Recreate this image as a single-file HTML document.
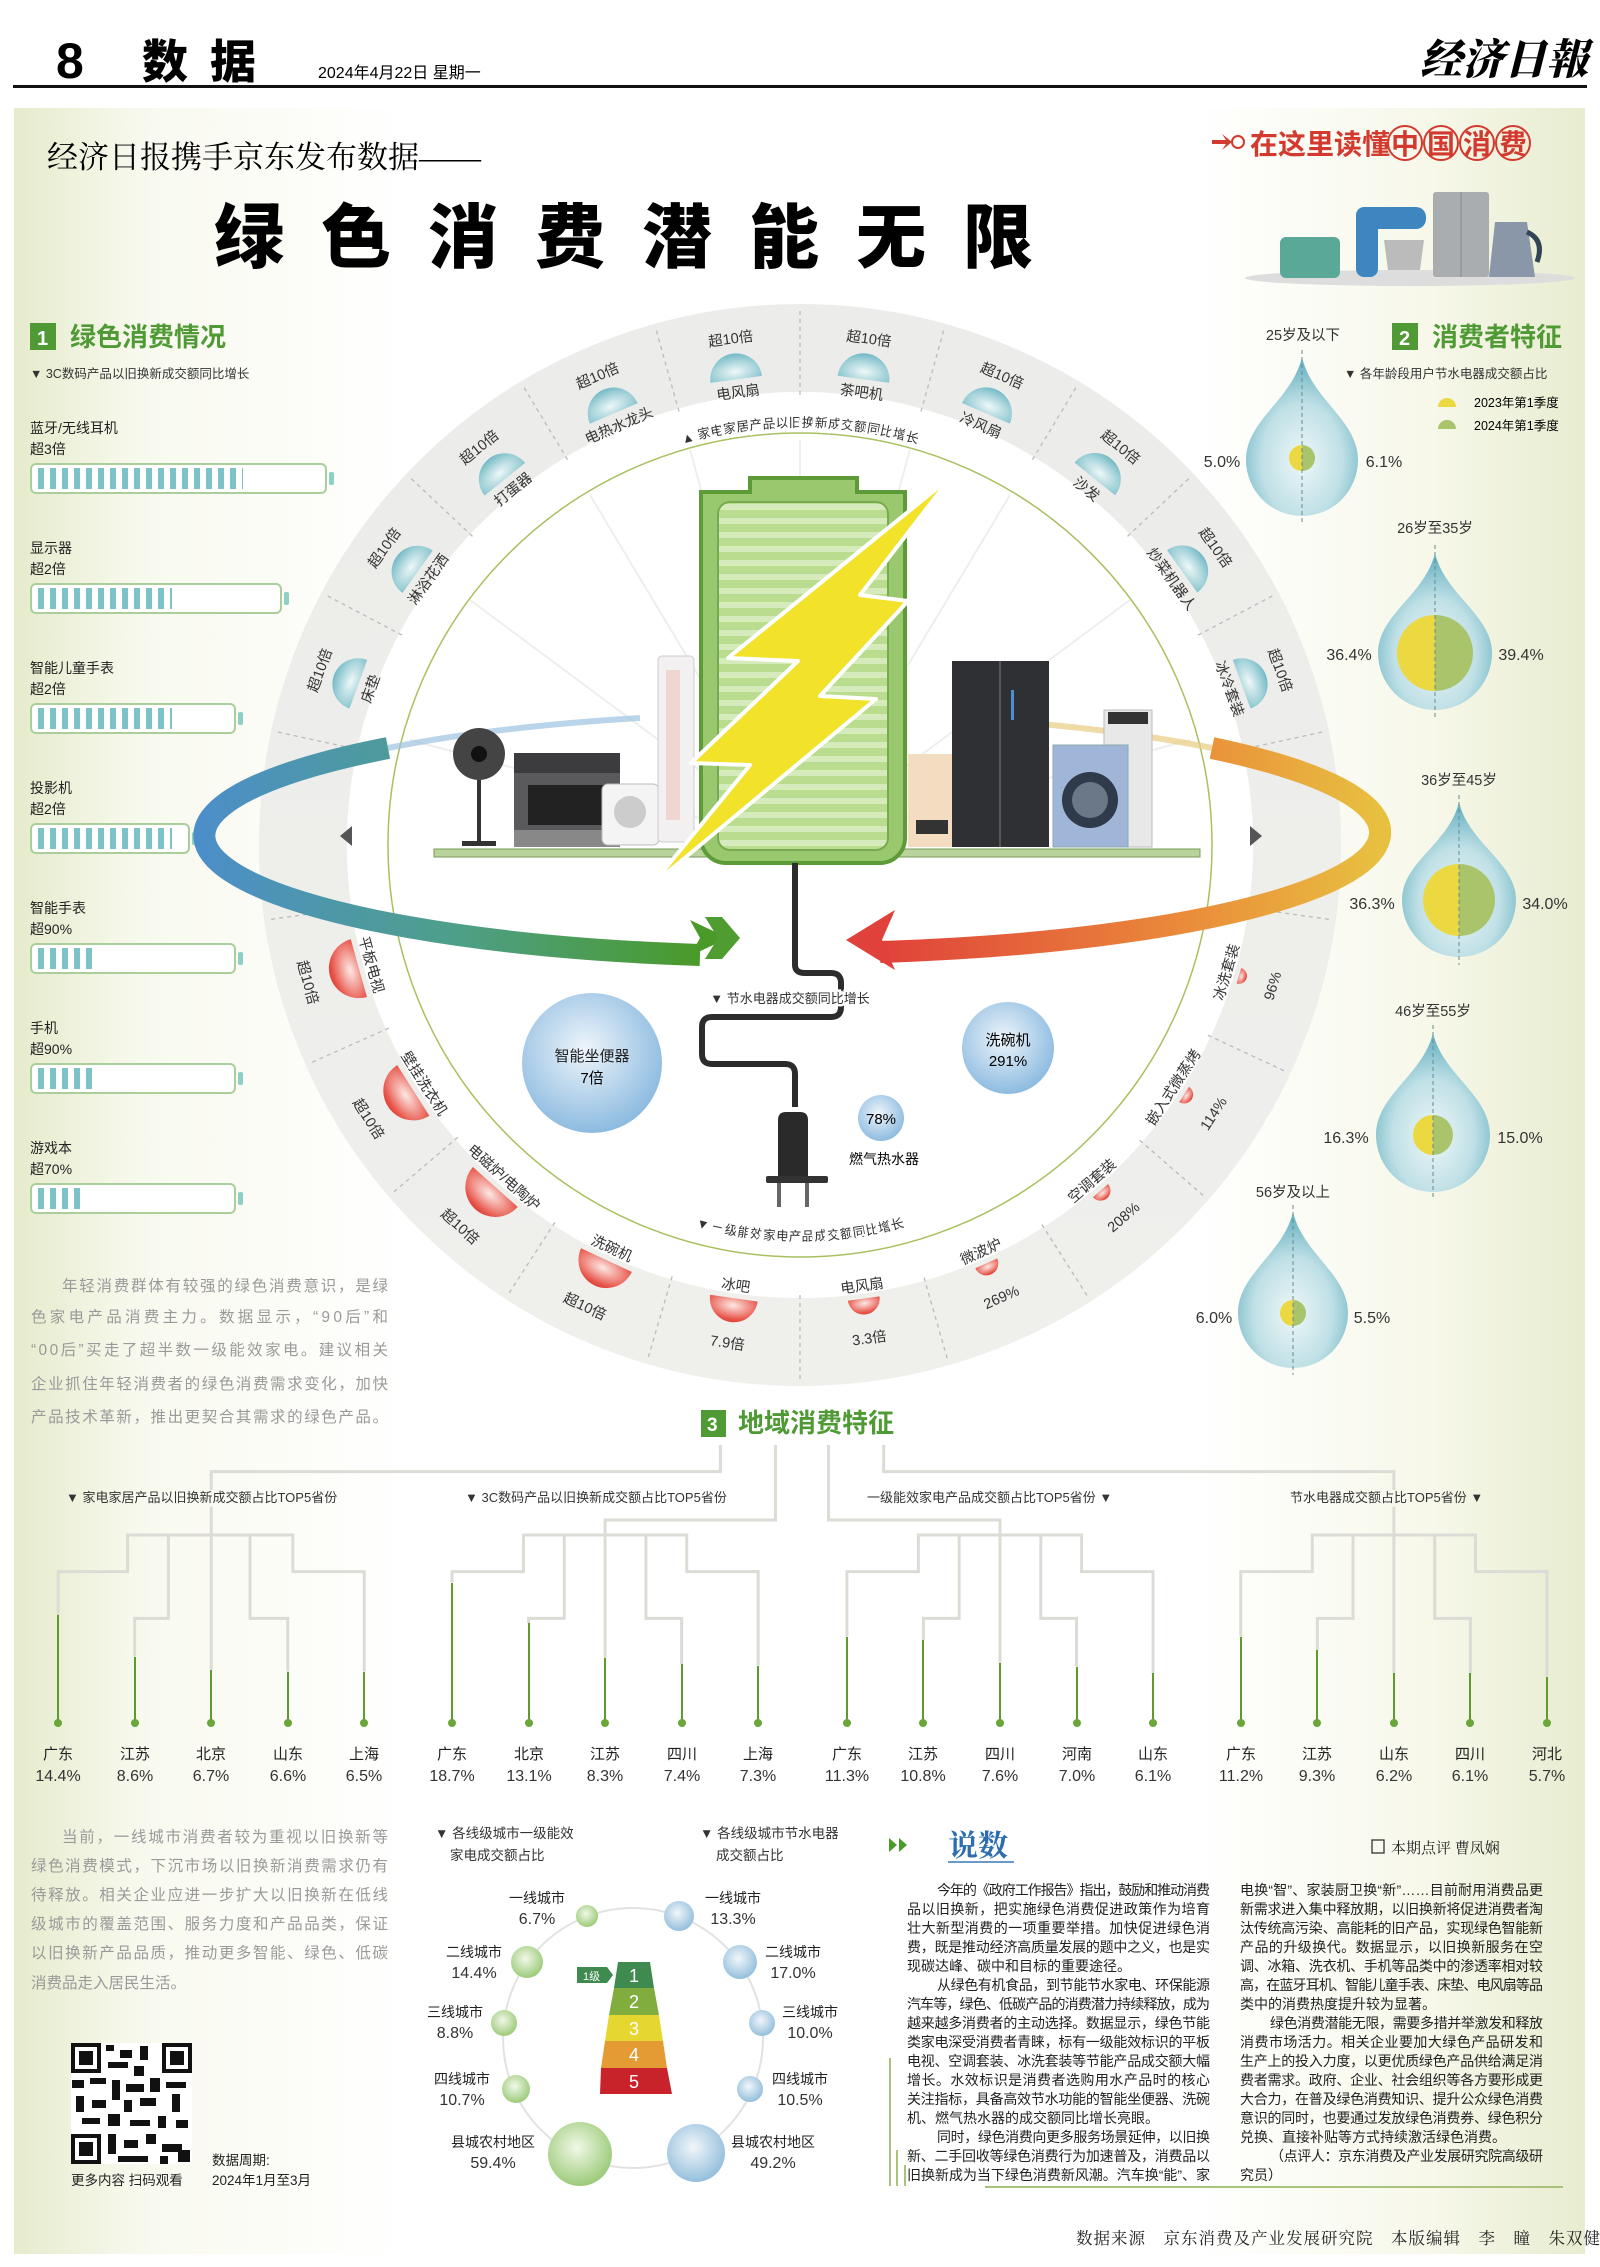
<!DOCTYPE html>
<html><head><meta charset="utf-8">
<style>
html,body{margin:0;padding:0;background:#fff;}
svg{display:block;}
text{font-family:"Liberation Sans","Noto Sans CJK SC",sans-serif;}
.serif{font-family:"Liberation Serif","Noto Serif CJK SC",serif;}
</style></head>
<body>
<svg width="1600" height="2267" viewBox="0 0 1600 2267" xmlns="http://www.w3.org/2000/svg">
<defs>
<linearGradient id="bgH" x1="0" x2="1" y1="0" y2="0">
<stop offset="0" stop-color="#e6ebcc"/><stop offset="0.08" stop-color="#f8f9ee"/><stop offset="0.25" stop-color="#fff"/><stop offset="0.75" stop-color="#fff"/><stop offset="0.9" stop-color="#f7f8ea"/><stop offset="1" stop-color="#e8ecd0"/>
</linearGradient>
<radialGradient id="teal" cx="0.5" cy="0.7" r="0.7"><stop offset="0" stop-color="#eef8f8"/><stop offset="1" stop-color="#72b9c5"/></radialGradient>
<radialGradient id="red" cx="0.5" cy="0.3" r="0.8"><stop offset="0" stop-color="#fde8e4"/><stop offset="0.7" stop-color="#e8574c"/><stop offset="1" stop-color="#d8342c"/></radialGradient>
<radialGradient id="drop" cx="0.5" cy="0.65" r="0.6"><stop offset="0" stop-color="#eef7f8"/><stop offset="0.6" stop-color="#bfe0e6"/><stop offset="1" stop-color="#6fb5c4"/></radialGradient>
<radialGradient id="bub" cx="0.45" cy="0.4" r="0.6"><stop offset="0" stop-color="#eef5fb"/><stop offset="1" stop-color="#8dbbe0"/></radialGradient>
<radialGradient id="gb" cx="0.45" cy="0.4" r="0.6"><stop offset="0" stop-color="#f1f8e8"/><stop offset="1" stop-color="#9ccb79"/></radialGradient>
<radialGradient id="bb" cx="0.45" cy="0.4" r="0.6"><stop offset="0" stop-color="#f1f6fa"/><stop offset="1" stop-color="#94bfdc"/></radialGradient>
<linearGradient id="swL" x1="0" x2="1"><stop offset="0" stop-color="#4c8fc8"/><stop offset="0.5" stop-color="#4e9f8a"/><stop offset="1" stop-color="#4a9a2a"/></linearGradient>
<linearGradient id="swR" x1="0" x2="1"><stop offset="0" stop-color="#e0413a"/><stop offset="0.6" stop-color="#ea8a3a"/><stop offset="1" stop-color="#e8c040"/></linearGradient>
<linearGradient id="ring" x1="0" x2="0" y1="0" y2="1"><stop offset="0" stop-color="#ececea"/><stop offset="1" stop-color="#efefec"/></linearGradient>
<pattern id="bstripe" width="12" height="40" patternUnits="userSpaceOnUse"><rect width="12" height="40" fill="#fff"/><rect x="2" width="6" height="40" fill="#7cc2c6"/></pattern>
<pattern id="batt" width="10" height="14" patternUnits="userSpaceOnUse"><rect width="10" height="14" fill="#b9dc8e"/><rect width="10" height="6" fill="#d6ebbc"/></pattern>
<path id="arcTop" d="M382,845 A418,418 0 0 1 1218,845"/>
<path id="arcBot" d="M404,845 A396,396 0 0 0 1196,845"/>
</defs>

<!-- header -->
<text x="56" y="78" font-size="50" font-weight="900">8</text>
<text x="142" y="78" font-size="46" font-weight="900" letter-spacing="22">数据</text>
<text x="318" y="78" font-size="16">2024年4月22日  星期一</text>
<text x="1420" y="74" font-size="42" font-weight="900" class="serif" font-style="italic">经济日報</text>
<rect x="13" y="85" width="1574" height="3" fill="#111"/>

<!-- panel -->
<rect x="14" y="108" width="1571" height="2146" fill="url(#bgH)"/>

<text x="47" y="168" font-size="31" class="serif">经济日报携手京东发布数据——</text>
<text x="214" y="262" font-size="70" font-weight="900" letter-spacing="37">绿色消费潜能无限</text>

<!-- 在这里读懂中国消费 -->
<g fill="#d23a2f">
<path d="M1212,140 h14 l-4,-6 l10,8 l-10,8 l4,-6 h-14z"/>
<circle cx="1238" cy="142" r="6" fill="none" stroke="#d23a2f" stroke-width="2"/>
<text x="1250" y="154" font-size="28" font-weight="700">在这里读懂</text>
<g fill="none" stroke="#d23a2f" stroke-width="2"><circle cx="1405" cy="143" r="17"/><circle cx="1441" cy="143" r="17"/><circle cx="1477" cy="143" r="17"/><circle cx="1513" cy="143" r="17"/></g>
<text x="1391" y="154" font-size="28" font-weight="700" letter-spacing="8">中国消费</text>
</g>
<!-- small appliances -->
<ellipse cx="1410" cy="278" rx="165" ry="8" fill="#ddd"/>
<rect x="1280" y="237" width="60" height="41" rx="6" fill="#5aa898"/>
<rect x="1356" y="207" width="22" height="70" rx="8" fill="#3e86c0"/>
<rect x="1356" y="207" width="70" height="22" rx="10" fill="#3e86c0"/>
<path d="M1384,240 h40 l-4,30 h-32z" fill="#bbb"/>
<rect x="1433" y="192" width="56" height="85" rx="3" fill="#a9adb0"/>
<line x1="1461" y1="192" x2="1461" y2="277" stroke="#888"/>
<path d="M1495,222 h32 l8,55 h-46z" fill="#8a97a8"/>
<path d="M1527,232 q18,8 10,30" stroke="#345" stroke-width="5" fill="none"/>

<!-- section 1 -->
<rect x="30" y="323" width="26" height="27" fill="#4f9a35"/>
<text x="37" y="345" font-size="20" fill="#fff" font-weight="700">1</text>
<text x="70" y="346" font-size="26" font-weight="700" fill="#4f9a35">绿色消费情况</text>
<text x="30" y="378" font-size="12.5" fill="#333">▼ 3C数码产品以旧换新成交额同比增长</text>
<g font-size="14" fill="#222">
<text x="30" y="433">蓝牙/无线耳机</text><text x="30" y="454">超3倍</text>
<text x="30" y="553">显示器</text><text x="30" y="574">超2倍</text>
<text x="30" y="673">智能儿童手表</text><text x="30" y="694">超2倍</text>
<text x="30" y="793">投影机</text><text x="30" y="814">超2倍</text>
<text x="30" y="913">智能手表</text><text x="30" y="934">超90%</text>
<text x="30" y="1033">手机</text><text x="30" y="1054">超90%</text>
<text x="30" y="1153">游戏本</text><text x="30" y="1174">超70%</text>
</g>
<g stroke="#a9cf9a" stroke-width="2" fill="#fff">
<rect x="31" y="464" width="295" height="29" rx="5"/>
<rect x="31" y="584" width="250" height="29" rx="5"/>
<rect x="31" y="704" width="204" height="29" rx="5"/>
<rect x="31" y="824" width="158" height="29" rx="5"/>
<rect x="31" y="944" width="204" height="29" rx="5"/>
<rect x="31" y="1064" width="204" height="29" rx="5"/>
<rect x="31" y="1184" width="204" height="29" rx="5"/>
</g>
<g fill="url(#bstripe)">
<rect x="34" y="468" width="209" height="21"/><rect x="34" y="588" width="138" height="21"/>
<rect x="34" y="708" width="138" height="21"/><rect x="34" y="828" width="138" height="21"/>
<rect x="34" y="948" width="60" height="21"/><rect x="34" y="1068" width="60" height="21"/>
<rect x="34" y="1188" width="48" height="21"/>
</g>
<g fill="#8fcfc4"><rect x="329" y="472" width="5" height="13" rx="2"/><rect x="284" y="592" width="5" height="13" rx="2"/><rect x="238" y="712" width="5" height="13" rx="2"/><rect x="192" y="832" width="5" height="13" rx="2"/><rect x="238" y="952" width="5" height="13" rx="2"/><rect x="238" y="1072" width="5" height="13" rx="2"/><rect x="238" y="1192" width="5" height="13" rx="2"/></g>

<g font-size="15.5" fill="#9a9a9a" class="serif">
<text x="62" y="1291" textLength="326" lengthAdjust="spacing">年轻消费群体有较强的绿色消费意识，是绿</text>
<text x="31" y="1322" textLength="357" lengthAdjust="spacing">色家电产品消费主力。数据显示，“90后”和</text>
<text x="31" y="1355" textLength="357" lengthAdjust="spacing">“00后”买走了超半数一级能效家电。建议相关</text>
<text x="31" y="1389" textLength="357" lengthAdjust="spacing">企业抓住年轻消费者的绿色消费需求变化，加快</text>
<text x="31" y="1422" textLength="357" lengthAdjust="spacing">产品技术革新，推出更契合其需求的绿色产品。</text>
</g>

<!-- big circle -->
<circle cx="800" cy="845" r="497" fill="none" stroke="url(#ring)" stroke-width="88"/>
<circle cx="800" cy="845" r="453" fill="#fff"/>
<g stroke="#eee" stroke-width="2">
<line x1="800" y1="845" x2="800" y2="440"/><line x1="800" y1="845" x2="590" y2="495"/><line x1="800" y1="845" x2="1010" y2="495"/><line x1="800" y1="845" x2="470" y2="600"/><line x1="800" y1="845" x2="1130" y2="600"/><line x1="800" y1="845" x2="410" y2="740"/><line x1="800" y1="845" x2="1190" y2="740"/><line x1="800" y1="845" x2="690" y2="450"/><line x1="800" y1="845" x2="910" y2="450"/>
</g>
<circle cx="800" cy="845" r="412" fill="none" stroke="#a8c060" stroke-width="1.5"/>
<g stroke="#bbb" stroke-dasharray="4,4" stroke-width="1.3">
<g transform="translate(800,845)">
<line x1="0" y1="-450" x2="0" y2="-538" transform="rotate(-77.8)"/><line x1="0" y1="-450" x2="0" y2="-538" transform="rotate(-62.2)"/><line x1="0" y1="-450" x2="0" y2="-538" transform="rotate(-46.7)"/><line x1="0" y1="-450" x2="0" y2="-538" transform="rotate(-31.1)"/><line x1="0" y1="-450" x2="0" y2="-538" transform="rotate(-15.6)"/><line x1="0" y1="-450" x2="0" y2="-538" transform="rotate(0)"/><line x1="0" y1="-450" x2="0" y2="-538" transform="rotate(15.6)"/><line x1="0" y1="-450" x2="0" y2="-538" transform="rotate(31.1)"/><line x1="0" y1="-450" x2="0" y2="-538" transform="rotate(46.7)"/><line x1="0" y1="-450" x2="0" y2="-538" transform="rotate(62.2)"/><line x1="0" y1="-450" x2="0" y2="-538" transform="rotate(77.8)"/>
<line x1="0" y1="-450" x2="0" y2="-538" transform="rotate(98)"/><line x1="0" y1="-450" x2="0" y2="-538" transform="rotate(115)"/><line x1="0" y1="-450" x2="0" y2="-538" transform="rotate(131)"/><line x1="0" y1="-450" x2="0" y2="-538" transform="rotate(147.5)"/><line x1="0" y1="-450" x2="0" y2="-538" transform="rotate(164)"/><line x1="0" y1="-450" x2="0" y2="-538" transform="rotate(180)"/><line x1="0" y1="-450" x2="0" y2="-538" transform="rotate(196.5)"/><line x1="0" y1="-450" x2="0" y2="-538" transform="rotate(213)"/><line x1="0" y1="-450" x2="0" y2="-538" transform="rotate(229.5)"/><line x1="0" y1="-450" x2="0" y2="-538" transform="rotate(246)"/><line x1="0" y1="-450" x2="0" y2="-538" transform="rotate(262)"/>
</g></g>

<!-- top items -->
<g font-size="14.5" fill="#333" text-anchor="middle">
<g transform="translate(800,845) rotate(-70)"><path d="M-26,-470 A26,26 0 0 1 26,-470Z" fill="url(#teal)"/><text y="-506">超10倍</text><text y="-452">床垫</text></g>
<g transform="translate(800,845) rotate(-54.45)"><path d="M-26,-470 A26,26 0 0 1 26,-470Z" fill="url(#teal)"/><text y="-506">超10倍</text><text y="-452">淋浴花洒</text></g>
<g transform="translate(800,845) rotate(-38.9)"><path d="M-26,-470 A26,26 0 0 1 26,-470Z" fill="url(#teal)"/><text y="-506">超10倍</text><text y="-452">打蛋器</text></g>
<g transform="translate(800,845) rotate(-23.35)"><path d="M-26,-470 A26,26 0 0 1 26,-470Z" fill="url(#teal)"/><text y="-506">超10倍</text><text y="-452">电热水龙头</text></g>
<g transform="translate(800,845) rotate(-7.8)"><path d="M-26,-470 A26,26 0 0 1 26,-470Z" fill="url(#teal)"/><text y="-506">超10倍</text><text y="-452">电风扇</text></g>
<g transform="translate(800,845) rotate(7.75)"><path d="M-26,-470 A26,26 0 0 1 26,-470Z" fill="url(#teal)"/><text y="-506">超10倍</text><text y="-452">茶吧机</text></g>
<g transform="translate(800,845) rotate(23.3)"><path d="M-26,-470 A26,26 0 0 1 26,-470Z" fill="url(#teal)"/><text y="-506">超10倍</text><text y="-452">冷风扇</text></g>
<g transform="translate(800,845) rotate(38.85)"><path d="M-26,-470 A26,26 0 0 1 26,-470Z" fill="url(#teal)"/><text y="-506">超10倍</text><text y="-452">沙发</text></g>
<g transform="translate(800,845) rotate(54.4)"><path d="M-26,-470 A26,26 0 0 1 26,-470Z" fill="url(#teal)"/><text y="-506">超10倍</text><text y="-452">炒菜机器人</text></g>
<g transform="translate(800,845) rotate(70)"><path d="M-26,-470 A26,26 0 0 1 26,-470Z" fill="url(#teal)"/><text y="-506">超10倍</text><text y="-452">冰冷套装</text></g>
</g>
<!-- bottom items -->
<g font-size="14.5" fill="#333" text-anchor="middle">
<g transform="translate(800,845) rotate(74.4)"><path d="M-30,458 A30,30 0 0 0 30,458Z" fill="url(#red)"/><text y="450">平板电视</text><text y="516">超10倍</text></g>
<g transform="translate(800,845) rotate(57.6)"><path d="M-30,458 A30,30 0 0 0 30,458Z" fill="url(#red)"/><text y="450">壁挂洗衣机</text><text y="516">超10倍</text></g>
<g transform="translate(800,845) rotate(41.7)"><path d="M-30,458 A30,30 0 0 0 30,458Z" fill="url(#red)"/><text y="450">电磁炉/电陶炉</text><text y="516">超10倍</text></g>
<g transform="translate(800,845) rotate(25)"><path d="M-28,458 A28,28 0 0 0 28,458Z" fill="url(#red)"/><text y="450">洗碗机</text><text y="514">超10倍</text></g>
<g transform="translate(800,845) rotate(8.3)"><path d="M-24,458 A24,24 0 0 0 24,458Z" fill="url(#red)"/><text y="450">冰吧</text><text y="508">7.9倍</text></g>
<g transform="translate(800,845) rotate(-8)"><path d="M-16,458 A16,16 0 0 0 16,458Z" fill="url(#red)"/><text y="450">电风扇</text><text y="503">3.3倍</text></g>
<g transform="translate(800,845) rotate(-24)"><path d="M-12,458 A12,12 0 0 0 12,458Z" fill="url(#red)"/><text y="450">微波炉</text><text y="500">269%</text></g>
<g transform="translate(800,845) rotate(-41)"><path d="M-10,458 A10,10 0 0 0 10,458Z" fill="url(#red)"/><text y="450">空调套装</text><text y="498">208%</text></g>
<g transform="translate(800,845) rotate(-57)"><path d="M-9,458 A9,9 0 0 0 9,458Z" fill="url(#red)"/><text y="450">嵌入式微蒸烤</text><text y="498">114%</text></g>
<g transform="translate(800,845) rotate(-73.4)"><path d="M-8,458 A8,8 0 0 0 8,458Z" fill="url(#red)"/><text y="450">冰洗套装</text><text y="498">96%</text></g>
</g>
<text font-size="13" fill="#333" stroke="#fff" stroke-width="6" paint-order="stroke"><textPath href="#arcTop" startOffset="50%" text-anchor="middle">▲ 家电家居产品以旧换新成交额同比增长</textPath></text>
<text font-size="13" fill="#333" stroke="#fff" stroke-width="6" paint-order="stroke"><textPath href="#arcBot" startOffset="50%" text-anchor="middle">▼ 一级能效家电产品成交额同比增长</textPath></text>

<!-- swoosh back parts -->
<path d="M640,718 A592,121 0 0 0 388,748" stroke="#9cc3e0" stroke-width="6" fill="none" opacity="0.7"/>
<path d="M960,718 A592,121 0 0 1 1212,748" stroke="#e8cc80" stroke-width="6" fill="none" opacity="0.7"/>

<!-- appliances -->
<rect x="434" y="849" width="766" height="8" fill="#b9d49a" stroke="#7a9a5a"/>
<circle cx="479" cy="754" r="26" fill="#444"/><circle cx="479" cy="754" r="8" fill="#111"/>
<rect x="477" y="780" width="4" height="62" fill="#333"/><rect x="462" y="841" width="34" height="5" fill="#333"/>
<rect x="514" y="753" width="106" height="94" fill="#5a5a5c"/><rect x="514" y="753" width="106" height="20" fill="#3c3c3e"/>
<rect x="528" y="785" width="78" height="40" fill="#222"/><rect x="514" y="830" width="106" height="17" fill="#888"/>
<rect x="602" y="784" width="57" height="61" rx="6" fill="#f4f4f4" stroke="#bbb"/><circle cx="630" cy="812" r="16" fill="#ccc"/>
<rect x="658" y="656" width="36" height="186" rx="4" fill="#f2f0f0" stroke="#ccc"/><rect x="666" y="670" width="14" height="150" fill="#f0d6d0"/>
<rect x="908" y="754" width="54" height="93" fill="#f3dcc0"/><rect x="916" y="820" width="32" height="14" fill="#333"/>
<rect x="952" y="661" width="97" height="186" fill="#2f3033"/><line x1="1000" y1="661" x2="1000" y2="847" stroke="#555" stroke-width="2"/><rect x="1011" y="690" width="3" height="30" fill="#4a8fd0"/>
<rect x="1104" y="710" width="48" height="137" fill="#e8e8e8" stroke="#bbb"/><rect x="1108" y="712" width="40" height="12" fill="#333"/>
<rect x="1053" y="745" width="75" height="102" fill="#9fb6d8" stroke="#8aa"/><circle cx="1090" cy="800" r="28" fill="#2f3a4a"/><circle cx="1090" cy="800" r="18" fill="#6a7888"/>

<!-- battery -->
<path d="M750,478 h107 v14 h48 v346 a25,25 0 0 1 -25,25 h-154 a25,25 0 0 1 -25,-25 v-346 h49z" fill="#9ac86e" stroke="#5d9a38" stroke-width="4"/>
<rect x="718" y="502" width="170" height="348" rx="12" fill="url(#batt)" stroke="#7aaa50" stroke-width="2"/>
<polygon points="951,477 728,658 798,661 691,763 750,765 651,886 876,699 820,696 908,601 860,595" fill="#f2e22a" stroke="#fff" stroke-width="4" stroke-linejoin="round"/>

<!-- swooshes front -->
<path d="M388,748 A592,121 0 0 0 700,955" stroke="url(#swL)" stroke-width="22" fill="none"/>
<polygon points="690,920 728,938 690,956 700,938" fill="#4a9a2a"/>
<polygon points="705,917 722,917 740,938 722,959 705,959 718,938" fill="#4f9d30"/>
<path d="M1212,748 A592,121 0 0 1 880,952" stroke="url(#swR)" stroke-width="22" fill="none"/>
<polygon points="846,940 895,910 882,940 895,970" fill="#e0413a"/>
<polygon points="340,836 352,826 352,846" fill="#555"/>
<polygon points="1262,836 1250,826 1250,846" fill="#555"/>

<!-- cord & plug -->
<path d="M795,863 V965 q0,8 10,8 h26 q10,0 10,10 v24 q0,10 -10,10 h-119 q-10,0 -10,10 v27 q0,10 10,10 h73 q10,0 10,10 v33" stroke="#2c2c2c" stroke-width="6" fill="none"/>
<path d="M778,1120 q0,-8 8,-8 h14 q8,0 8,8 v57 h-30z" fill="#2a2a2a"/>
<rect x="766" y="1176" width="62" height="7" rx="2" fill="#333"/>
<rect x="777" y="1183" width="4" height="24" fill="#666"/><rect x="805" y="1183" width="4" height="24" fill="#666"/>
<text x="790" y="1003" font-size="13" text-anchor="middle" fill="#333" stroke="#fff" stroke-width="5" paint-order="stroke">▼ 节水电器成交额同比增长</text>

<circle cx="592" cy="1063" r="70" fill="url(#bub)"/>
<text x="592" y="1061" font-size="15" text-anchor="middle" fill="#222">智能坐便器</text><text x="592" y="1083" font-size="15" text-anchor="middle">7倍</text>
<circle cx="1008" cy="1048" r="46" fill="url(#bub)"/>
<text x="1008" y="1045" font-size="15" text-anchor="middle">洗碗机</text><text x="1008" y="1066" font-size="15" text-anchor="middle">291%</text>
<circle cx="881" cy="1118" r="23" fill="url(#bub)"/>
<text x="881" y="1124" font-size="15" text-anchor="middle">78%</text>
<text x="884" y="1164" font-size="14" text-anchor="middle">燃气热水器</text>

<!-- section 2 -->
<rect x="1392" y="323" width="26" height="27" fill="#4f9a35"/>
<text x="1399" y="345" font-size="20" fill="#fff" font-weight="700">2</text>
<text x="1432" y="346" font-size="26" font-weight="700" fill="#4f9a35">消费者特征</text>
<text x="1344" y="378" font-size="12.5" fill="#333">▼ 各年龄段用户节水电器成交额占比</text>
<path d="M1438,407 a9,9 0 0 1 18,0z" fill="#ecd840"/><text x="1474" y="407" font-size="12.5">2023年第1季度</text>
<path d="M1438,429 a9,9 0 0 1 18,0z" fill="#a9c46b"/><text x="1474" y="430" font-size="12.5">2024年第1季度</text>

<g font-size="14.5" fill="#333" text-anchor="middle">
<text x="1303" y="340">25岁及以下</text>
<text x="1435" y="533">26岁至35岁</text>
<text x="1459" y="785">36岁至45岁</text>
<text x="1433" y="1016">46岁至55岁</text>
<text x="1293" y="1197">56岁及以上</text>
</g>
<!-- drops -->
<g>
<path d="M1302,357 C1312,400 1358,420 1358,460 A56,56 0 0 1 1246,460 C1246,420 1292,400 1302,357Z" fill="url(#drop)"/>
<path d="M1302,445 a13,13 0 0 0 0,26z" fill="#ecd840"/><path d="M1302,445 a13,13 0 0 1 0,26z" fill="#a9c46b"/>
<line x1="1302" y1="350" x2="1302" y2="525" stroke="#6a8a90" stroke-dasharray="4,3"/>
<path d="M1435,553 C1445,595 1492,615 1492,653 A57,57 0 0 1 1378,653 C1378,615 1425,595 1435,553Z" fill="url(#drop)"/>
<path d="M1435,615 a38,38 0 0 0 0,76z" fill="#ecd840"/><path d="M1435,615 a38,38 0 0 1 0,76z" fill="#a9c46b"/>
<line x1="1435" y1="545" x2="1435" y2="720" stroke="#6a8a90" stroke-dasharray="4,3"/>
<path d="M1459,802 C1469,844 1516,862 1516,900 A57,57 0 0 1 1402,900 C1402,862 1449,844 1459,802Z" fill="url(#drop)"/>
<path d="M1459,864 a36,36 0 0 0 0,72z" fill="#ecd840"/><path d="M1459,864 a36,36 0 0 1 0,72z" fill="#a9c46b"/>
<line x1="1459" y1="795" x2="1459" y2="965" stroke="#6a8a90" stroke-dasharray="4,3"/>
<path d="M1433,1033 C1443,1075 1490,1095 1490,1135 A57,57 0 0 1 1376,1135 C1376,1095 1423,1075 1433,1033Z" fill="url(#drop)"/>
<path d="M1433,1115 a20,20 0 0 0 0,40z" fill="#ecd840"/><path d="M1433,1115 a20,20 0 0 1 0,40z" fill="#a9c46b"/>
<line x1="1433" y1="1025" x2="1433" y2="1200" stroke="#6a8a90" stroke-dasharray="4,3"/>
<path d="M1293,1212 C1303,1254 1348,1274 1348,1313 A55,55 0 0 1 1238,1313 C1238,1274 1283,1254 1293,1212Z" fill="url(#drop)"/>
<path d="M1293,1300 a13,13 0 0 0 0,26z" fill="#ecd840"/><path d="M1293,1300 a13,13 0 0 1 0,26z" fill="#a9c46b"/>
<line x1="1293" y1="1205" x2="1293" y2="1375" stroke="#6a8a90" stroke-dasharray="4,3"/>
</g>
<g font-size="16" fill="#333" text-anchor="middle">
<text x="1222" y="467">5.0%</text><text x="1384" y="467">6.1%</text>
<text x="1349" y="660">36.4%</text><text x="1521" y="660">39.4%</text>
<text x="1372" y="909">36.3%</text><text x="1545" y="909">34.0%</text>
<text x="1346" y="1143">16.3%</text><text x="1520" y="1143">15.0%</text>
<text x="1214" y="1323">6.0%</text><text x="1372" y="1323">5.5%</text>
</g>

<!-- section 3 -->
<rect x="701" y="1410" width="25" height="27" fill="#4f9a35"/>
<text x="707" y="1431" font-size="19" fill="#fff" font-weight="700">3</text>
<text x="738" y="1432" font-size="26" font-weight="700" fill="#4f9a35">地域消费特征</text>
<g transform="translate(0,1400) scale(1.0204,0.33333)" fill="none" stroke="#dcdcd6" stroke-width="3">
<path vector-effect="non-scaling-stroke" d="M57,645 V515 H125 V405 H287 V515 H357 V815 M132,770 V655 H165 V405 M282,815 V655 H245 V405 M207,810 V320 M207,270 V215 H706 V135"/>
<path vector-effect="non-scaling-stroke" d="M443,548 V515 H513 V405 H673 V515 H743 V797 M518,670 V655 H553 V405 M668,793 V655 H633 V405 M593,775 V360 H760 V135"/>
<path vector-effect="non-scaling-stroke" d="M830,710 V515 H900 V405 H1060 V515 H1130 V820 M905,720 V655 H940 V405 M1055,800 V655 H1020 V405 M980,790 V360 H812 V135"/>
<path vector-effect="non-scaling-stroke" d="M1216,710 V515 H1286 V405 H1446 V515 H1516 V830 M1291,750 V655 H1326 V405 M1441,820 V655 H1406 V405 M1366,820 V320 M1366,270 V215 H866 V135"/>
</g>
<g font-size="13" fill="#333">
<text x="66" y="1502">▼ 家电家居产品以旧换新成交额占比TOP5省份</text>
<text x="465" y="1502">▼ 3C数码产品以旧换新成交额占比TOP5省份</text>
<text x="867" y="1502">一级能效家电产品成交额占比TOP5省份 ▼</text>
<text x="1290" y="1502">节水电器成交额占比TOP5省份 ▼</text>
</g>
<g stroke="#5e9a2e" stroke-width="2">
<line x1="58" y1="1615" x2="58" y2="1723"/><line x1="135" y1="1657" x2="135" y2="1723"/><line x1="211" y1="1670" x2="211" y2="1723"/><line x1="288" y1="1672" x2="288" y2="1723"/><line x1="364" y1="1672" x2="364" y2="1723"/>
<line x1="452" y1="1583" x2="452" y2="1723"/><line x1="529" y1="1623" x2="529" y2="1723"/><line x1="605" y1="1658" x2="605" y2="1723"/><line x1="682" y1="1664" x2="682" y2="1723"/><line x1="758" y1="1666" x2="758" y2="1723"/>
<line x1="847" y1="1637" x2="847" y2="1723"/><line x1="923" y1="1640" x2="923" y2="1723"/><line x1="1000" y1="1663" x2="1000" y2="1723"/><line x1="1077" y1="1667" x2="1077" y2="1723"/><line x1="1153" y1="1673" x2="1153" y2="1723"/>
<line x1="1241" y1="1637" x2="1241" y2="1723"/><line x1="1317" y1="1650" x2="1317" y2="1723"/><line x1="1394" y1="1673" x2="1394" y2="1723"/><line x1="1470" y1="1673" x2="1470" y2="1723"/><line x1="1547" y1="1677" x2="1547" y2="1723"/>
</g>
<g fill="#6aa63a">
<circle cx="58" cy="1723" r="4"/><circle cx="135" cy="1723" r="4"/><circle cx="211" cy="1723" r="4"/><circle cx="288" cy="1723" r="4"/><circle cx="364" cy="1723" r="4"/>
<circle cx="452" cy="1723" r="4"/><circle cx="529" cy="1723" r="4"/><circle cx="605" cy="1723" r="4"/><circle cx="682" cy="1723" r="4"/><circle cx="758" cy="1723" r="4"/>
<circle cx="847" cy="1723" r="4"/><circle cx="923" cy="1723" r="4"/><circle cx="1000" cy="1723" r="4"/><circle cx="1077" cy="1723" r="4"/><circle cx="1153" cy="1723" r="4"/>
<circle cx="1241" cy="1723" r="4"/><circle cx="1317" cy="1723" r="4"/><circle cx="1394" cy="1723" r="4"/><circle cx="1470" cy="1723" r="4"/><circle cx="1547" cy="1723" r="4"/>
</g>
<g font-size="15" fill="#222" text-anchor="middle">
<text x="58" y="1759">广东</text><text x="135" y="1759">江苏</text><text x="211" y="1759">北京</text><text x="288" y="1759">山东</text><text x="364" y="1759">上海</text>
<text x="452" y="1759">广东</text><text x="529" y="1759">北京</text><text x="605" y="1759">江苏</text><text x="682" y="1759">四川</text><text x="758" y="1759">上海</text>
<text x="847" y="1759">广东</text><text x="923" y="1759">江苏</text><text x="1000" y="1759">四川</text><text x="1077" y="1759">河南</text><text x="1153" y="1759">山东</text>
<text x="1241" y="1759">广东</text><text x="1317" y="1759">江苏</text><text x="1394" y="1759">山东</text><text x="1470" y="1759">四川</text><text x="1547" y="1759">河北</text>
</g>
<g font-size="16" fill="#333" text-anchor="middle">
<text x="58" y="1781">14.4%</text><text x="135" y="1781">8.6%</text><text x="211" y="1781">6.7%</text><text x="288" y="1781">6.6%</text><text x="364" y="1781">6.5%</text>
<text x="452" y="1781">18.7%</text><text x="529" y="1781">13.1%</text><text x="605" y="1781">8.3%</text><text x="682" y="1781">7.4%</text><text x="758" y="1781">7.3%</text>
<text x="847" y="1781">11.3%</text><text x="923" y="1781">10.8%</text><text x="1000" y="1781">7.6%</text><text x="1077" y="1781">7.0%</text><text x="1153" y="1781">6.1%</text>
<text x="1241" y="1781">11.2%</text><text x="1317" y="1781">9.3%</text><text x="1394" y="1781">6.2%</text><text x="1470" y="1781">6.1%</text><text x="1547" y="1781">5.7%</text>
</g>

<!-- bottom left text -->
<g font-size="15.5" fill="#9a9a9a" class="serif">
<text x="62" y="1842" textLength="326" lengthAdjust="spacing">当前，一线城市消费者较为重视以旧换新等</text>
<text x="31" y="1871" textLength="357" lengthAdjust="spacing">绿色消费模式，下沉市场以旧换新消费需求仍有</text>
<text x="31" y="1900" textLength="357" lengthAdjust="spacing">待释放。相关企业应进一步扩大以旧换新在低线</text>
<text x="31" y="1929" textLength="357" lengthAdjust="spacing">级城市的覆盖范围、服务力度和产品品类，保证</text>
<text x="31" y="1958" textLength="357" lengthAdjust="spacing">以旧换新产品品质，推动更多智能、绿色、低碳</text>
<text x="31" y="1988">消费品走入居民生活。</text>
</g>
<!-- QR -->
<rect x="71" y="2043" width="121" height="121" fill="#fff"/>
<g fill="#111">
<rect x="71" y="2043" width="30" height="30"/><rect x="162" y="2043" width="30" height="30"/><rect x="71" y="2134" width="30" height="30"/>
</g>
<g fill="#fff"><rect x="75" y="2047" width="22" height="22"/><rect x="166" y="2047" width="22" height="22"/><rect x="75" y="2138" width="22" height="22"/></g>
<g fill="#111"><rect x="79" y="2051" width="14" height="14"/><rect x="170" y="2051" width="14" height="14"/><rect x="79" y="2142" width="14" height="14"/>
<rect x="106" y="2045" width="8" height="6"/><rect x="120" y="2050" width="12" height="8"/><rect x="140" y="2046" width="8" height="14"/><rect x="108" y="2062" width="20" height="6"/><rect x="134" y="2066" width="10" height="10"/>
<rect x="72" y="2080" width="12" height="8"/><rect x="90" y="2078" width="16" height="6"/><rect x="112" y="2080" width="8" height="20"/><rect x="126" y="2084" width="18" height="8"/><rect x="150" y="2078" width="10" height="14"/><rect x="166" y="2082" width="20" height="6"/>
<rect x="76" y="2096" width="8" height="16"/><rect x="92" y="2100" width="14" height="8"/><rect x="124" y="2100" width="8" height="12"/><rect x="140" y="2098" width="16" height="8"/><rect x="172" y="2094" width="8" height="18"/>
<rect x="82" y="2118" width="18" height="6"/><rect x="108" y="2114" width="12" height="12"/><rect x="130" y="2120" width="20" height="6"/><rect x="158" y="2116" width="8" height="12"/><rect x="176" y="2120" width="12" height="8"/>
<rect x="108" y="2134" width="8" height="20"/><rect x="124" y="2140" width="14" height="8"/><rect x="146" y="2134" width="10" height="10"/><rect x="162" y="2144" width="20" height="8"/><rect x="118" y="2156" width="30" height="6"/><rect x="160" y="2156" width="8" height="8"/><rect x="178" y="2150" width="12" height="12"/>
</g>
<g font-size="13.5" fill="#222">
<text x="71" y="2185">更多内容 扫码观看</text>
<text x="212" y="2165">数据周期:</text>
<text x="212" y="2185">2024年1月至3月</text>
</g>

<!-- bottom middle chart -->
<g font-size="13.5" fill="#333">
<text x="435" y="1838">▼ 各线级城市一级能效</text><text x="450" y="1860">家电成交额占比</text>
<text x="700" y="1838">▼ 各线级城市节水电器</text><text x="716" y="1860">成交额占比</text>
</g>
<circle cx="633" cy="2038" r="130" fill="none" stroke="#e2e2e2" stroke-width="2"/>
<circle cx="587" cy="1916" r="11" fill="url(#gb)"/><circle cx="527" cy="1962" r="16" fill="url(#gb)"/><circle cx="504" cy="2023" r="13" fill="url(#gb)"/><circle cx="516" cy="2089" r="14" fill="url(#gb)"/><circle cx="580" cy="2154" r="32" fill="url(#gb)"/>
<circle cx="679" cy="1916" r="15" fill="url(#bb)"/><circle cx="740" cy="1962" r="17" fill="url(#bb)"/><circle cx="762" cy="2023" r="13" fill="url(#bb)"/><circle cx="750" cy="2089" r="13" fill="url(#bb)"/><circle cx="696" cy="2153" r="29" fill="url(#bb)"/>
<g font-size="14" fill="#222" text-anchor="middle">
<text x="537" y="1903">一线城市</text><text x="474" y="1957">二线城市</text><text x="455" y="2017">三线城市</text><text x="462" y="2084">四线城市</text><text x="493" y="2147">县城农村地区</text>
<text x="733" y="1903">一线城市</text><text x="793" y="1957">二线城市</text><text x="810" y="2017">三线城市</text><text x="800" y="2084">四线城市</text><text x="773" y="2147">县城农村地区</text>
</g>
<g font-size="16" fill="#333" text-anchor="middle">
<text x="537" y="1924">6.7%</text><text x="474" y="1978">14.4%</text><text x="455" y="2038">8.8%</text><text x="462" y="2105">10.7%</text><text x="493" y="2168">59.4%</text>
<text x="733" y="1924">13.3%</text><text x="793" y="1978">17.0%</text><text x="810" y="2038">10.0%</text><text x="800" y="2105">10.5%</text><text x="773" y="2168">49.2%</text>
</g>
<polygon points="618,1962 650,1962 654,1988 614,1988" fill="#3f8a4e"/>
<polygon points="614,1988 654,1988 659,2015 609,2015" fill="#80ad3e"/>
<polygon points="609,2015 659,2015 663,2041 605,2041" fill="#e6d630"/>
<polygon points="605,2041 663,2041 667,2068 601,2068" fill="#e59b33"/>
<polygon points="601,2068 667,2068 672,2094 600,2094" fill="#c8222a"/>
<g font-size="18" fill="#fff" text-anchor="middle"><text x="634" y="1982">1</text><text x="634" y="2008">2</text><text x="634" y="2035">3</text><text x="634" y="2061">4</text><text x="634" y="2088">5</text></g>
<polygon points="577,1967 607,1967 613,1975 607,1983 577,1983" fill="#3f8a4e"/>
<text x="583" y="1980" font-size="11" fill="#fff">1级</text>

<!-- 说数 -->
<polygon points="889,1838 897,1845 889,1852" fill="#4a9a2a"/><polygon points="899,1838 907,1845 899,1852" fill="#4a9a2a"/>
<text x="948" y="1856" font-size="30" fill="#2d6fae" font-weight="700" class="serif">说数</text>
<rect x="948" y="1861" width="66" height="2" fill="#6a9ac8"/>
<rect x="1372" y="1840" width="12" height="13" fill="none" stroke="#333" stroke-width="1.3"/>
<text x="1391" y="1853" font-size="15" class="serif" fill="#222">本期点评   曹凤娴</text>
<g font-size="14" fill="#222" class="serif">
<text x="937" y="1895" textLength="273" lengthAdjust="spacing">今年的《政府工作报告》指出，鼓励和推动消费</text>
<text x="907" y="1914" textLength="303" lengthAdjust="spacing">品以旧换新，把实施绿色消费促进政策作为培育</text>
<text x="907" y="1933" textLength="303" lengthAdjust="spacing">壮大新型消费的一项重要举措。加快促进绿色消</text>
<text x="907" y="1952" textLength="303" lengthAdjust="spacing">费，既是推动经济高质量发展的题中之义，也是实</text>
<text x="907" y="1971">现碳达峰、碳中和目标的重要途径。</text>
<text x="937" y="1990" textLength="273" lengthAdjust="spacing">从绿色有机食品，到节能节水家电、环保能源</text>
<text x="907" y="2009" textLength="303" lengthAdjust="spacing">汽车等，绿色、低碳产品的消费潜力持续释放，成为</text>
<text x="907" y="2028" textLength="303" lengthAdjust="spacing">越来越多消费者的主动选择。数据显示，绿色节能</text>
<text x="907" y="2047" textLength="303" lengthAdjust="spacing">类家电深受消费者青睐，标有一级能效标识的平板</text>
<text x="907" y="2066" textLength="303" lengthAdjust="spacing">电视、空调套装、冰洗套装等节能产品成交额大幅</text>
<text x="907" y="2085" textLength="303" lengthAdjust="spacing">增长。水效标识是消费者选购用水产品时的核心</text>
<text x="907" y="2104" textLength="303" lengthAdjust="spacing">关注指标，具备高效节水功能的智能坐便器、洗碗</text>
<text x="907" y="2123">机、燃气热水器的成交额同比增长亮眼。</text>
<text x="937" y="2142" textLength="273" lengthAdjust="spacing">同时，绿色消费向更多服务场景延伸，以旧换</text>
<text x="907" y="2161" textLength="303" lengthAdjust="spacing">新、二手回收等绿色消费行为加速普及，消费品以</text>
<text x="907" y="2180" textLength="303" lengthAdjust="spacing">旧换新成为当下绿色消费新风潮。汽车换“能”、家</text>
<text x="1240" y="1895" textLength="303" lengthAdjust="spacing">电换“智”、家装厨卫换“新”……目前耐用消费品更</text>
<text x="1240" y="1914" textLength="303" lengthAdjust="spacing">新需求进入集中释放期，以旧换新将促进消费者淘</text>
<text x="1240" y="1933" textLength="303" lengthAdjust="spacing">汰传统高污染、高能耗的旧产品，实现绿色智能新</text>
<text x="1240" y="1952" textLength="303" lengthAdjust="spacing">产品的升级换代。数据显示，以旧换新服务在空</text>
<text x="1240" y="1971" textLength="303" lengthAdjust="spacing">调、冰箱、洗衣机、手机等品类中的渗透率相对较</text>
<text x="1240" y="1990" textLength="303" lengthAdjust="spacing">高，在蓝牙耳机、智能儿童手表、床垫、电风扇等品</text>
<text x="1240" y="2009">类中的消费热度提升较为显著。</text>
<text x="1270" y="2028" textLength="273" lengthAdjust="spacing">绿色消费潜能无限，需要多措并举激发和释放</text>
<text x="1240" y="2047" textLength="303" lengthAdjust="spacing">消费市场活力。相关企业要加大绿色产品研发和</text>
<text x="1240" y="2066" textLength="303" lengthAdjust="spacing">生产上的投入力度，以更优质绿色产品供给满足消</text>
<text x="1240" y="2085" textLength="303" lengthAdjust="spacing">费者需求。政府、企业、社会组织等各方要形成更</text>
<text x="1240" y="2104" textLength="303" lengthAdjust="spacing">大合力，在普及绿色消费知识、提升公众绿色消费</text>
<text x="1240" y="2123" textLength="303" lengthAdjust="spacing">意识的同时，也要通过发放绿色消费券、绿色积分</text>
<text x="1240" y="2142">兑换、直接补贴等方式持续激活绿色消费。</text>
<text x="1270" y="2161" textLength="273" lengthAdjust="spacing">（点评人：京东消费及产业发展研究院高级研</text>
<text x="1240" y="2180">究员）</text>
</g>
<rect x="985" y="2186" width="578" height="2" fill="#a9c47a"/>
<g stroke="#a9c47a" stroke-width="2"><line x1="890" y1="2058" x2="890" y2="2186"/><line x1="897" y1="2150" x2="897" y2="2186"/><line x1="905" y1="2165" x2="905" y2="2186"/></g>

<text x="1076" y="2244" font-size="16.5" class="serif" fill="#222" letter-spacing="1">数据来源　京东消费及产业发展研究院　本版编辑　李　瞳　朱双健</text>
</svg>
</body></html>
